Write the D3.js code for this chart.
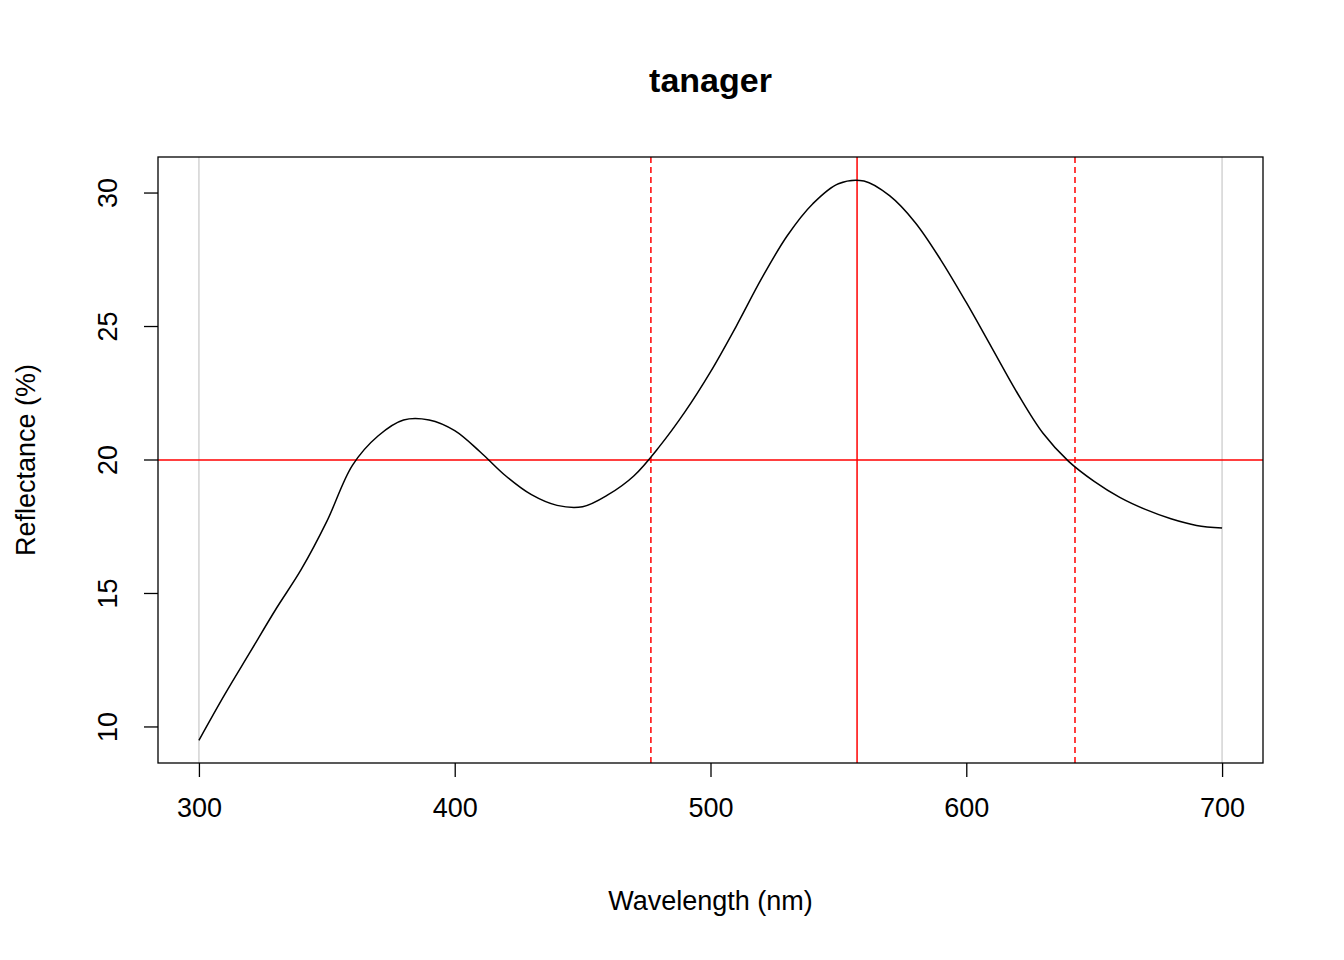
<!DOCTYPE html>
<html><head><meta charset="utf-8">
<script src="https://cdn.jsdelivr.net/npm/d3@7"></script>
<style>body{margin:0;background:#fff}text{font-family:"Liberation Sans",Arial,sans-serif}</style>
</head><body>
<script>
const wl = [300,310,320,330,340,350,360,370,380,390,400,410,420,430,440,450,460,470,480,490,500,
  510,520,530,540,550,560,570,580,590,600,610,620,630,640,650,660,670,680,690,700];
const refl = [9.5,11.2,12.8,14.4,15.9,17.7,19.8,20.9,21.5,21.5,21.1,20.3,19.4,18.7,18.3,18.25,18.7,19.4,20.5,21.8,23.3,
  25.0,26.8,28.4,29.6,30.35,30.45,29.9,28.9,27.5,25.9,24.2,22.5,21.0,19.95,19.2,18.6,18.15,17.8,17.55,17.45];
const xTicks = [300,400,500,600,700];
const yTicks = [10,15,20,25,30];
const hueLines = [{v:476.7,dash:true},{v:557.3,dash:false},{v:642.5,dash:true}];
const edgeLines = [300,700];
const hLine = 20;

const W=1344,H=960, L=158,R=1263,T=157,B=763;
const svg=d3.select("body").append("svg").attr("width",W).attr("height",H);
const x=d3.scaleLinear().domain([284,716]).range([L,R]);
const y=d3.scaleLinear().domain([8.65,31.35]).range([B,T]);

const g=svg.append("g");
g.selectAll(".edge").data(edgeLines).join("line")
  .attr("x1",d=>x(d)).attr("x2",d=>x(d)).attr("y1",T).attr("y2",B)
  .attr("stroke","#d3d3d3").attr("stroke-width",1.5);
g.append("line").attr("x1",L).attr("x2",R).attr("y1",y(hLine)).attr("y2",y(hLine))
  .attr("stroke","red").attr("stroke-width",1.5);
g.selectAll(".hue").data(hueLines).join("line")
  .attr("x1",d=>x(d.v)).attr("x2",d=>x(d.v)).attr("y1",T).attr("y2",B)
  .attr("stroke","red").attr("stroke-width",1.5).attr("stroke-dasharray",d=>d.dash?"6,4":null);

g.append("path").datum(wl.map((w,i)=>[w,refl[i]]))
  .attr("d",d3.line().x(d=>x(d[0])).y(d=>y(d[1])).curve(d3.curveCatmullRom))
  .attr("fill","none").attr("stroke","#000").attr("stroke-width",1.5);

svg.append("rect").attr("x",L).attr("y",T).attr("width",R-L).attr("height",B-T)
  .attr("fill","none").attr("stroke","#000").attr("stroke-width",1.3);

const xa=svg.append("g").attr("transform",`translate(0,${B})`)
  .call(d3.axisBottom(x).tickValues(xTicks).tickSize(14).tickPadding(40));
const ya=svg.append("g").attr("transform",`translate(${L},0)`)
  .call(d3.axisLeft(y).tickValues(yTicks).tickSize(14));
[xa,ya].forEach(a=>{a.select(".domain").remove();
  a.selectAll("line").attr("stroke-width",1.3);
  a.selectAll("text").style("font-size","27px").attr("fill","#000");});
xa.selectAll("text").attr("dy","0");
ya.selectAll(".tick").attr("transform",null);
ya.selectAll(".tick line").attr("y1",d=>y(d)).attr("y2",d=>y(d));
ya.selectAll("text").attr("text-anchor","middle").attr("x",null).attr("y",0).attr("dy",null)
  .attr("transform",d=>`translate(-50,${y(d)}) rotate(-90)`).attr("dy","0.35em");

svg.append("text").attr("x",(L+R)/2).attr("y",92).attr("text-anchor","middle")
  .style("font-size","34px").attr("font-weight","bold").text("tanager");
svg.append("text").attr("x",(L+R)/2).attr("y",910).attr("text-anchor","middle")
  .style("font-size","27px").text("Wavelength (nm)");
svg.append("text").attr("transform",`translate(35,${(T+B)/2}) rotate(-90)`).attr("text-anchor","middle")
  .style("font-size","27px").text("Reflectance (%)");
</script>
</body></html>
